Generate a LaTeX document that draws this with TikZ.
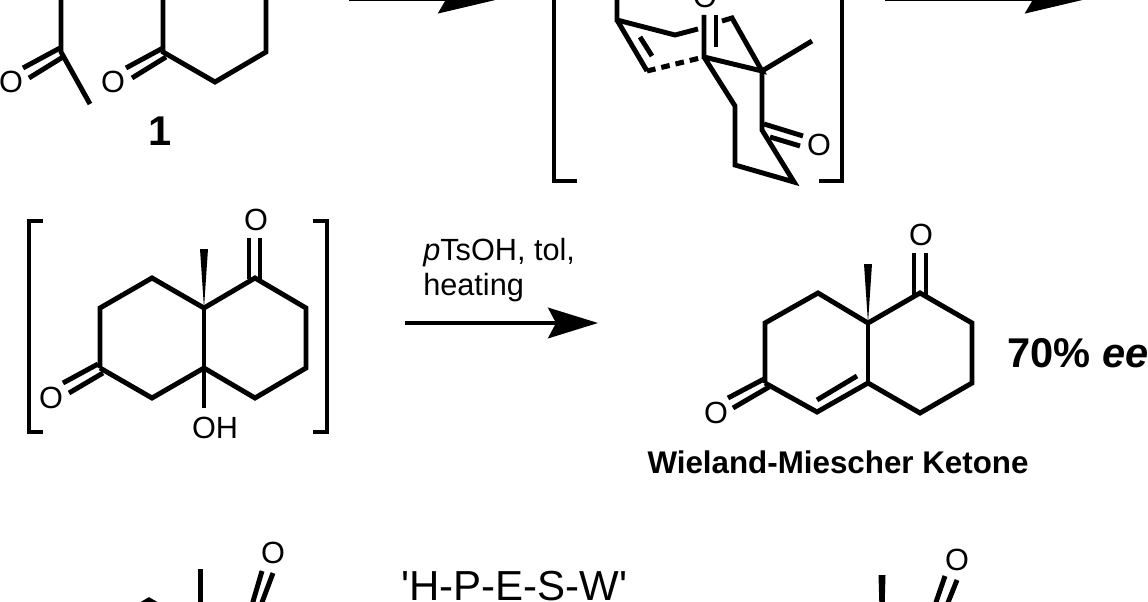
\documentclass[tikz,border=0pt]{standalone}
\usepackage{fontspec}
\setmainfont{Liberation Sans}
\newfontfamily\plainsans{Liberation Sans}
\usetikzlibrary{arrows.meta}
\tikzset{
	bond/.style={line width=3.7pt},
	dashbond/.style={line width=3.8pt,dash pattern=on 6.5pt off 4.5pt},
	atom/.style={inner sep=0pt,font=\fontsize{23}{27}\selectfont},
	reagent/.style={inner sep=0pt,align=left,anchor=north west,font=\fontsize{23}{26}\selectfont},
	title/.style={inner sep=0pt,anchor=base,font=\bfseries\fontsize{23.5}{28}\selectfont},
	big/.style={inner sep=0pt,anchor=base west,font=\bfseries\fontsize{31.2}{36}\selectfont},
	rxn/.style={line width=2.4pt,-{Stealth[length=37.5pt,width=23pt,inset=6pt]}},
	rxntop/.style={line width=2.4pt,-{Stealth[length=45pt,width=21pt,inset=6pt]}}
}
\begin{document}
\begin{tikzpicture}[x=0.75pt,y=-0.75pt]
	\useasboundingbox (0,0) rectangle (1148,602);
	\clip (0,0) rectangle (1148,602);
	% substrate 1
	\coordinate (s1) at (61,-5);
	\coordinate (s2) at (61,52);
	\coordinate (s3) at (90,104);
	\coordinate (s4) at (60,48);
	\coordinate (s5) at (23,68);
	\coordinate (s6) at (63,57);
	\coordinate (s7) at (29,78);
	\coordinate (k1) at (163,-5);
	\coordinate (k2) at (163,52);
	\coordinate (k3) at (215,82);
	\coordinate (k4) at (266,52);
	\coordinate (k5) at (266,-5);
	\coordinate (k6) at (163,48);
	\coordinate (k7) at (126,68);
	\coordinate (k8) at (166,57);
	\coordinate (k9) at (132,78);
	\node[atom] (o1) at (11,82) {O};
	\node[atom] (o2) at (113,82) {O};
	\node[big,anchor=base] (n1) at (160,146) {1};
	\draw[bond] (s1) -- (s2) -- (s3);
	\draw[bond] (s4) -- (s5);
	\draw[bond] (s6) -- (s7);
	\draw[bond] (k1) -- (k2) -- (k3) -- (k4) -- (k5);
	\draw[bond] (k6) -- (k7);
	\draw[bond] (k8) -- (k9);
	% top arrows
	\coordinate (a1) at (349,-0.6);
	\coordinate (a2) at (498,-0.6);
	\coordinate (b1) at (885,-0.6);
	\coordinate (b2) at (1085,-0.6);
	\draw[rxntop] (a1) -- (a2);
	\draw[rxntop] (b1) -- (b2);
	% transition state
	\coordinate (l1) at (577,181);
	\coordinate (l2) at (554,181);
	\coordinate (l3) at (554,-5);
	\coordinate (r1) at (819,181);
	\coordinate (r2) at (842,181);
	\coordinate (r3) at (842,-5);
	\draw[bond] (l1) -- (l2) -- (l3);
	\draw[bond] (r1) -- (r2) -- (r3);
	\coordinate (t1) at (617,-5);
	\coordinate (t2) at (617,20);
	\coordinate (t3) at (675,35);
	\coordinate (t4) at (698,29);
	\coordinate (t5) at (647,71);
	\coordinate (t6) at (640,37);
	\coordinate (t7) at (652,56);
	\coordinate (t8) at (704,57);
	\coordinate (t9) at (762,71);
	\coordinate (t10) at (704,15);
	\coordinate (t11) at (716,15);
	\coordinate (t12) at (716,47);
	\coordinate (t13) at (722,21);
	\coordinate (t14) at (732,18);
	\coordinate (t15) at (812,41);
	\coordinate (t16) at (762,130);
	\coordinate (t17) at (803,136);
	\coordinate (t18) at (764,124);
	\coordinate (t19) at (770,137);
	\coordinate (t20) at (800,146);
	\coordinate (t21) at (794,182);
	\coordinate (t22) at (735,106);
	\coordinate (t23) at (735,165);
	\node[atom,anchor=base] (o3) at (705,8) {O};
	\node[atom] (o4) at (819,145) {O};
	\draw[bond] (t1) -- (t2) -- (t3) -- (t4);
	\draw[bond] (t2) -- (t5);
	\draw[bond] (t6) -- (t7);
	\draw[dashbond] (t5) -- (t8);
	\draw[bond] (t10) -- (t8) -- (t9) -- (t14) -- (t13);
	\draw[bond] (t11) -- (t12);
	\draw[bond] (t15) -- (t9) -- (t16) -- (t21) -- (t23) -- (t22) -- (t8);
	\draw[bond] (t18) -- (t17);
	\draw[bond] (t19) -- (t20);
	% aldol
	\coordinate (p1) at (43,221);
	\coordinate (p2) at (29,221);
	\coordinate (p3) at (29,432);
	\coordinate (p4) at (43,432);
	\coordinate (q1) at (313,221);
	\coordinate (q2) at (327,221);
	\coordinate (q3) at (327,432);
	\coordinate (q4) at (313,432);
	\draw[bond] (p1) -- (p2) -- (p3) -- (p4);
	\draw[bond] (q1) -- (q2) -- (q3) -- (q4);
	\coordinate (c1) at (100,308);
	\coordinate (c2) at (152,278);
	\coordinate (c3) at (204,308);
	\coordinate (c4) at (204,368);
	\coordinate (c5) at (152,398);
	\coordinate (c6) at (100,368);
	\coordinate (c7) at (255,278);
	\coordinate (c8) at (306,308);
	\coordinate (c9) at (306,368);
	\coordinate (c10) at (255,398);
	\coordinate (c11) at (204,408);
	\coordinate (c12) at (249,279);
	\coordinate (c13) at (249,238);
	\coordinate (c14) at (260,238);
	\coordinate (c15) at (260,282);
	\coordinate (c16) at (98,364);
	\coordinate (c17) at (63,383);
	\coordinate (c18) at (103,373);
	\coordinate (c19) at (69,393);
	\coordinate (m1) at (200,249);
	\coordinate (m2) at (208,249);
	\node[atom] (o5) at (256,220) {O};
	\node[atom] (o6) at (51,398) {O};
	\node[atom] (oh) at (215,428) {OH};
	\draw[bond] (c6) -- (c1) -- (c2) -- (c3) -- (c7) -- (c8) -- (c9) -- (c10) -- (c4) -- (c5) -- (c6);
	\draw[bond] (c3) -- (c4) -- (c11);
	\draw[bond] (c12) -- (c13);
	\draw[bond] (c14) -- (c15);
	\draw[bond] (c16) -- (c17);
	\draw[bond] (c18) -- (c19);
	\fill (c3) -- (m1) -- (m2) -- cycle;
	% dehydration
	\coordinate (d1) at (405,323);
	\coordinate (d2) at (598,323);
	\node[reagent] (cond) at (423,238) {\textit{p}TsOH, tol,\\heating};
	\draw[rxn] (d1) -- (d2);
	% product
	\coordinate (w1) at (765,323);
	\coordinate (w2) at (818,293);
	\coordinate (w3) at (868,323);
	\coordinate (w4) at (868,383);
	\coordinate (w5) at (817,412);
	\coordinate (w6) at (765,383);
	\coordinate (w7) at (920,293);
	\coordinate (w8) at (972,323);
	\coordinate (w9) at (972,383);
	\coordinate (w10) at (920,413);
	\coordinate (w11) at (857,376);
	\coordinate (w12) at (817,400);
	\coordinate (w13) at (914,296);
	\coordinate (w14) at (914,253);
	\coordinate (w15) at (926,253);
	\coordinate (w16) at (926,296);
	\coordinate (w17) at (764,379);
	\coordinate (w18) at (728,398);
	\coordinate (w19) at (769,387);
	\coordinate (w20) at (733,408);
	\coordinate (m3) at (864,264);
	\coordinate (m4) at (872,264);
	\node[atom] (o7) at (921,235) {O};
	\node[atom] (o8) at (716,413) {O};
	\draw[bond] (w6) -- (w1) -- (w2) -- (w3) -- (w7) -- (w8) -- (w9) -- (w10) -- (w4) -- (w5) -- (w6);
	\draw[bond] (w3) -- (w4);
	\draw[bond] (w11) -- (w12);
	\draw[bond] (w13) -- (w14);
	\draw[bond] (w15) -- (w16);
	\draw[bond] (w17) -- (w18);
	\draw[bond] (w19) -- (w20);
	\fill (w3) -- (m3) -- (m4) -- cycle;
	\node[big] (ee) at (1007,367) {70\% \textit{ee}};
	\node[title] (name) at (838,473) {Wieland-Miescher Ketone};
	% bottom row
	\coordinate (e1) at (97,630);
	\coordinate (e2) at (149,600);
	\coordinate (e3) at (201,630);
	\coordinate (e4) at (197.5,569);
	\coordinate (e5) at (202.5,569);
	\coordinate (e6) at (197.5,610);
	\coordinate (e7) at (202.5,610);
	\coordinate (e8) at (262,571);
	\coordinate (e9) at (252,605);
	\coordinate (e10) at (273,573);
	\coordinate (e11) at (261,605);
	\node[atom] (o9) at (273,553) {O};
	\draw[bond] (e1) -- (e2) -- (e3);
	\fill (e4) -- (e5) -- (e7) -- (e6) -- cycle;
	\draw[bond] (e8) -- (e9);
	\draw[bond] (e10) -- (e11);
	\node[inner sep=0pt,anchor=base west,font=\plainsans\fontsize{31.5}{36}\selectfont] (hpesw) at (401,600) {'H-P-E-S-W'};
	\coordinate (f1) at (878.5,575);
	\coordinate (f2) at (885.5,575);
	\coordinate (f3) at (879.5,610);
	\coordinate (f4) at (884.5,610);
	\coordinate (f5) at (945,576);
	\coordinate (f6) at (935,605);
	\coordinate (f7) at (957,580);
	\coordinate (f8) at (947,605);
	\node[atom] (o10) at (957,560) {O};
	\fill (f1) -- (f2) -- (f4) -- (f3) -- cycle;
	\draw[bond] (f5) -- (f6);
	\draw[bond] (f7) -- (f8);
\end{tikzpicture}
\end{document}
